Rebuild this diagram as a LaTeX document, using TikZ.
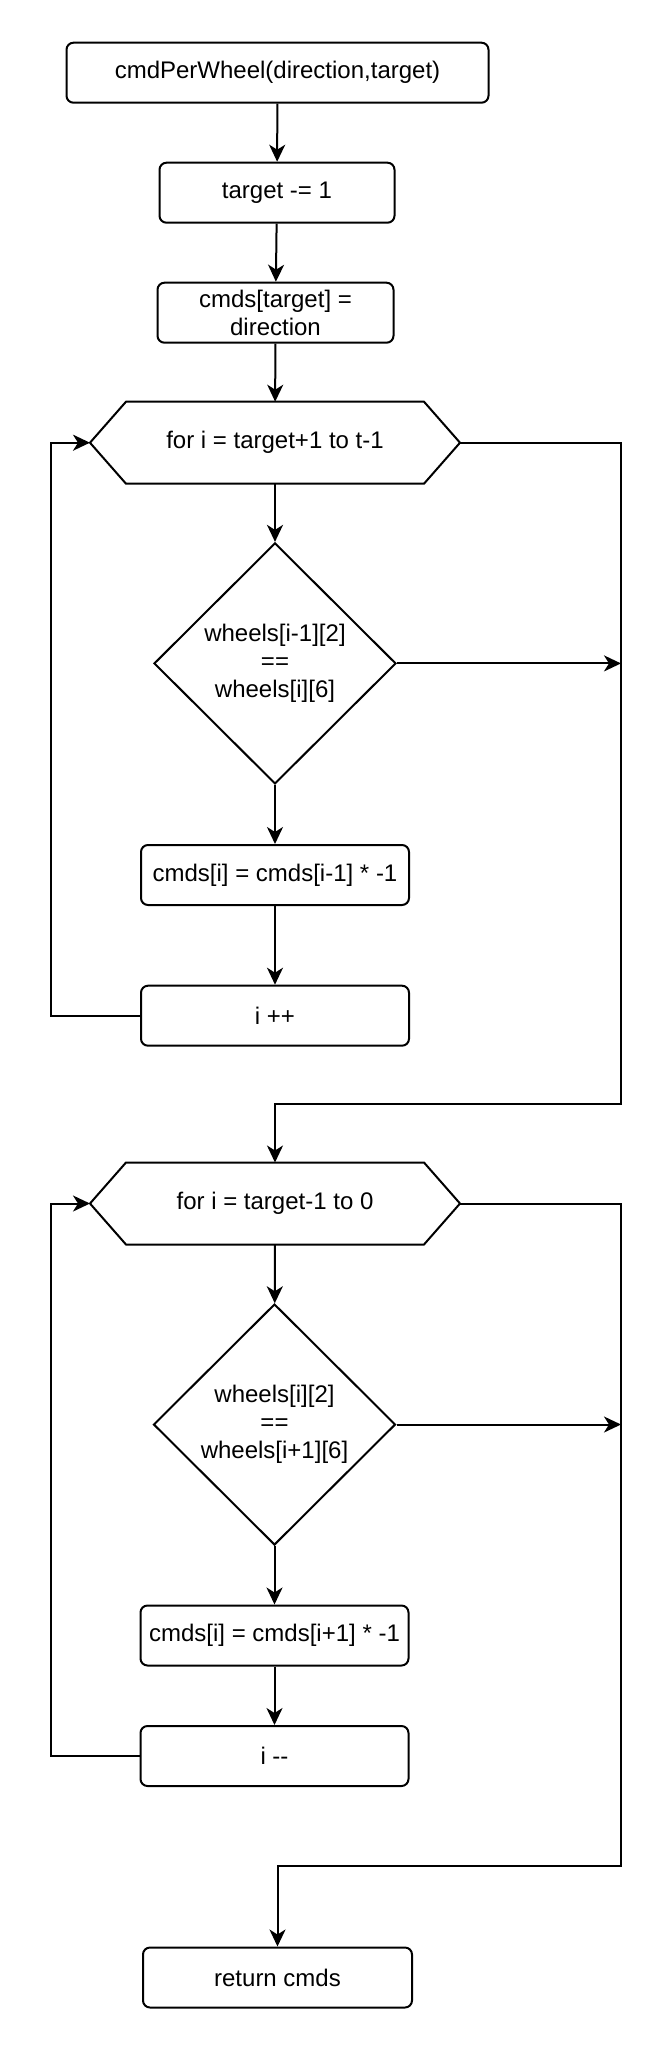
\documentclass[tikz,border=0pt]{standalone}
\usepackage{fontspec}
\setmainfont{Liberation Sans}
\usetikzlibrary{shapes,arrows,positioning,calc,arrows.meta}

\tikzset{
  block/.style={draw, rounded corners=7pt, minimum width=268pt, minimum height=60pt, inner sep=0pt, align=center},
  loopbox/.style={minimum width=368pt, minimum height=80pt, inner sep=0pt, align=center},
  test/.style={draw, diamond, inner sep=0pt, minimum width=242pt, minimum height=241pt, align=center},
  flow/.style={-{Stealth[length=17pt, width=16pt, inset=5pt]}},
}

\begin{document}
\begin{tikzpicture}[x=1pt, y=-1pt, line width=2pt, font=\fontsize{24}{28}\selectfont]
        \useasboundingbox (0,0) rectangle (666,2046);

        % rails
        \coordinate (lrail) at (51,0);
        \coordinate (rrail) at (621,0);
        \coordinate (join1) at (621,1104);
        \coordinate (join2) at (621,1866);

        % first part
        \node [block, minimum width=422pt] (start) at (277.5,72.7) {cmdPerWheel(direction,target)};
        \node [block, minimum width=235pt] (dec) at (277,192.7) {target -= 1};
        \node [block, minimum width=236pt] (setc) at (275.5,312.7) {cmds[target] =\\direction};

        % loop up
        \node [loopbox] (for1) at (275,442.7) {for i = target+1 to t-1};
        \draw (for1.west) -- ($(for1.north west)+(36,0)$) -- ($(for1.north east)+(-36,0)$)
            -- (for1.east) -- ($(for1.south east)+(-36,0)$) -- ($(for1.south west)+(36,0)$) -- cycle;
        \node [test] (cond1) at (275,663.4) {wheels[i-1][2]\\==\\wheels[i][6]};
        \node [block] (flip1) at (275,875) {cmds[i] = cmds[i-1] * -1};
        \node [block] (inc) at (275,1015.7) {i ++};

        % loop down
        \node [loopbox] (for2) at (275,1203.5) {for i = target-1 to 0};
        \draw (for2.west) -- ($(for2.north west)+(36,0)$) -- ($(for2.north east)+(-36,0)$)
            -- (for2.east) -- ($(for2.south east)+(-36,0)$) -- ($(for2.south west)+(36,0)$) -- cycle;
        \node [test] (cond2) at (274.5,1424.5) {wheels[i][2]\\==\\wheels[i+1][6]};
        \node [block] (flip2) at (274.5,1635.5) {cmds[i] = cmds[i+1] * -1};
        \node [block] (decr) at (274.5,1756) {i -{}-};

        \node [block, minimum width=269pt] (ret) at (277.5,1977.5) {return cmds};

        % arrows
        \draw [flow] (start) -- (dec);
        \draw [flow] (dec) -- (setc);
        \draw [flow] (setc) -- (for1);
        \draw [flow] (for1) -- (cond1);
        \draw [flow] (cond1) -- (flip1);
        \draw [flow] (flip1) -- (inc);
        \draw [flow] (inc.west) -- (inc.west -| lrail) |- (for1.west);
        \draw [flow] (cond1.east) -- (cond1.east -| rrail);
        \draw [flow] (for1.east) -| (join1) -| (for2.north);

        \draw [flow] (for2) -- (cond2);
        \draw [flow] (cond2) -- (flip2);
        \draw [flow] (flip2) -- (decr);
        \draw [flow] (decr.west) -- (decr.west -| lrail) |- (for2.west);
        \draw [flow] (cond2.east) -- (cond2.east -| rrail);
        \draw [flow] (for2.east) -| (join2) -| (ret.north);
    \end{tikzpicture}
\end{document}
